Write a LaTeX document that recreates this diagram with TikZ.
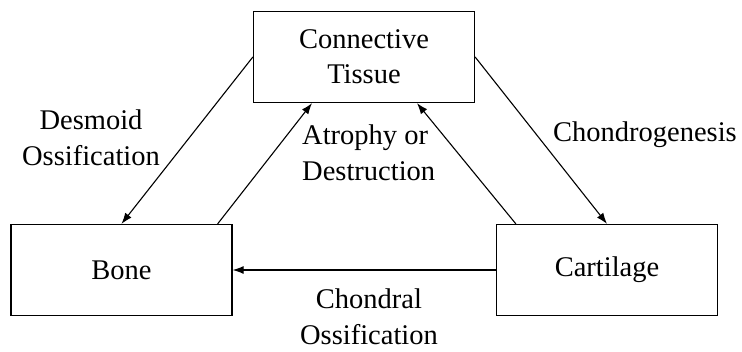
\documentclass[tikz,border=0pt]{standalone}
\usepackage{fontspec}
\setmainfont{Liberation Serif}
\usetikzlibrary{arrows.meta,positioning}
\begin{document}
\begin{tikzpicture}[x=1pt,y=-1pt,
  every node/.style={font=\fontsize{28.5}{36}\selectfont, inner sep=0pt},
  tissuebox/.style={draw, line width=1.3pt, minimum width=221pt, minimum height=91pt, align=center},
  flow/.style={line width=1.1pt, -{Latex[length=11pt,width=8pt]}},
  lbl/.style={align=center}]
  \useasboundingbox (0,0) rectangle (742,351);

  % tissue boxes
  \node[tissuebox] (ct) at (364,57) {Connective\\[-1pt]Tissue};
  \node[tissuebox] (bone) at (121.5,270) {Bone};
  \node[tissuebox] (cart) at (607,270) {Cartilage};

  % transformations between tissues
  \draw[flow] (ct.west) -- (bone.north);
  \draw[flow] ([xshift=-15pt]bone.north east) -- ([xshift=-52pt]ct.south);
  \draw[flow] ([xshift=20pt]cart.north west) -- ([xshift=53pt]ct.south);
  \draw[flow] (ct.east) -- (cart.north);
  \draw[flow] (cart.west) -- (bone.east);

  % labels
  \node[lbl] (desmoid) at (91,138) {Desmoid\\Ossification};
  \node[lbl, align=left, anchor=west] (atrophy) at (302,153) {Atrophy or\\Destruction};
  \node[lbl] (chondro) at (645,135) {Chondrogenesis};
  \node[lbl] (chondral) at (369,317) {Chondral\\Ossification};
\end{tikzpicture}
\end{document}
